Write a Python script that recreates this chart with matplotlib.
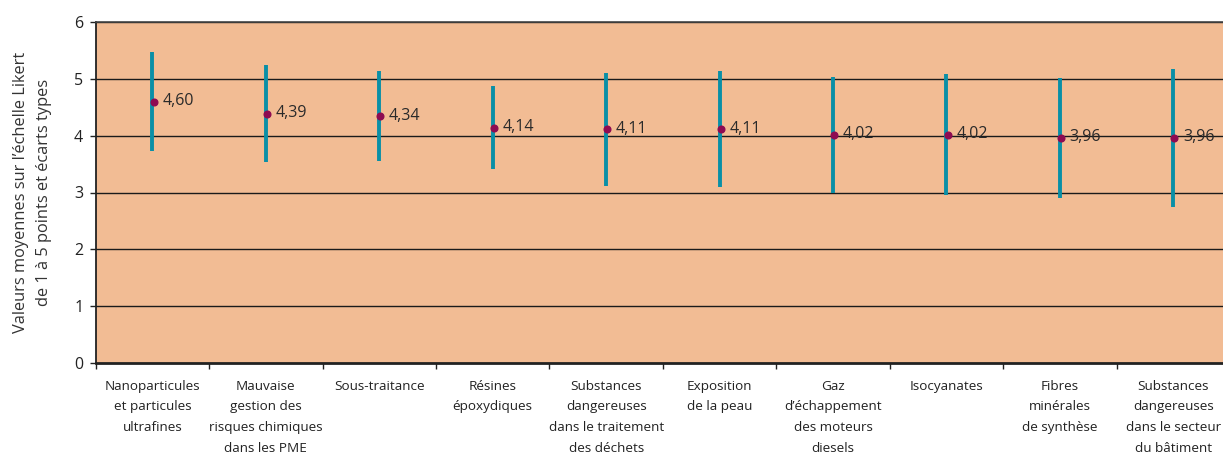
import matplotlib
matplotlib.use("Agg")
import matplotlib.pyplot as plt
import numpy as np
from matplotlib.ticker import FixedLocator, NullFormatter

categories = [
    "Nanoparticules\net particules\nultrafines",
    "Mauvaise\ngestion des\nrisques chimiques\ndans les PME",
    "Sous-traitance",
    "Résines\népoxydiques",
    "Substances\ndangereuses\ndans le traitement\ndes déchets",
    "Exposition\nde la peau",
    "Gaz\nd’échappement\ndes moteurs\ndiesels",
    "Isocyanates",
    "Fibres\nminérales\nde synthèse",
    "Substances\ndangereuses\ndans le secteur\ndu bâtiment",
]
means = [4.60, 4.39, 4.34, 4.14, 4.11, 4.11, 4.02, 4.02, 3.96, 3.96]
std_devs = [0.87, 0.85, 0.79, 0.73, 0.99, 1.02, 1.02, 1.06, 1.05, 1.21]
mean_labels = ["4,60", "4,39", "4,34", "4,14", "4,11", "4,11", "4,02", "4,02", "3,96", "3,96"]
y_ticks = [0, 1, 2, 3, 4, 5, 6]
y_label = "Valeurs moyennes sur l’échelle Likert\nde 1 à 5 points et écarts types"

W, H = 1223, 457
fig = plt.figure(figsize=(W / 100, H / 100), dpi=100)
left, right, top, bottom = 95.7, 1230, 22, 363
ax = fig.add_axes([left / W, 1 - bottom / H, (right - left) / W, (bottom - top) / H])

ax.set_facecolor("#F2BC94")
n = len(categories)
x = np.arange(n)

ax.set_xlim(-0.5, n - 0.5)
ax.set_ylim(0, 6)

for v in y_ticks[1:]:
    ax.axhline(v, color="#1a1a1a", lw=1.0, zorder=1)

ax.errorbar(x, means, yerr=std_devs, fmt="none", ecolor="#0A8FA6",
            elinewidth=2.8, capsize=0, zorder=3)
ax.plot(x + 0.01, means, linestyle="none", marker="o", markersize=4.8,
        color="#8E0B52", zorder=4)

font_main = ["Open Sans", "DejaVu Sans"]
for xi, m, lab in zip(x, means, mean_labels):
    ax.annotate(lab, (xi, m), xytext=(7, 0.5), textcoords="offset points",
                va="center", ha="left", fontsize=11.5, color="#2a2a2a",
                family=font_main, zorder=5)

ax.set_yticks(y_ticks)
ax.set_yticklabels([str(t) for t in y_ticks], fontsize=11.5, color="#222222",
                   family=font_main)
ax.tick_params(axis="y", length=4, width=1, color="#222222", pad=5)

ax.xaxis.set_major_locator(FixedLocator(np.arange(n + 1) - 0.5))
ax.xaxis.set_major_formatter(NullFormatter())
ax.xaxis.set_minor_locator(FixedLocator(x))
ax.set_xticklabels(categories, minor=True, fontsize=9.7, color="#222222",
                   family=font_main, linespacing=1.78, va="top")
ax.tick_params(axis="x", which="major", length=4, width=1, color="#222222", direction="out")
ax.tick_params(axis="x", which="minor", length=0, pad=12)

ax.set_ylabel(y_label, fontsize=11.8, color="#333333", family=font_main,
              linespacing=1.55, labelpad=16)

ax.spines["right"].set_visible(False)
ax.spines["top"].set_color("#444444")
ax.spines["top"].set_linewidth(1.2)
ax.spines["left"].set_color("#222222")
ax.spines["left"].set_linewidth(1.3)
ax.spines["bottom"].set_color("#222222")
ax.spines["bottom"].set_linewidth(2)

fig.savefig("out.png", dpi=100)
